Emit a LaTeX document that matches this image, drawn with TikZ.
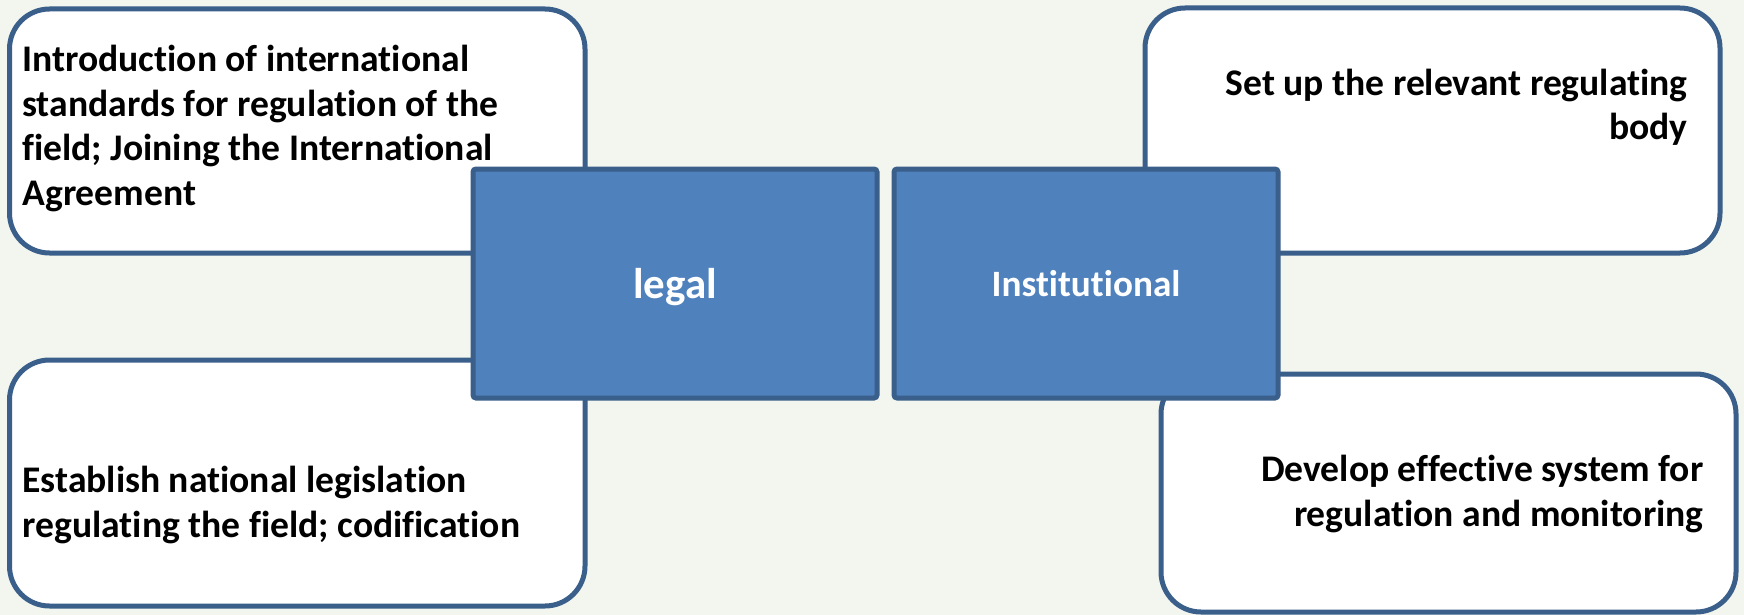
\documentclass[tikz,border=0pt]{standalone}
\usepackage{fontspec}
\setmainfont[Ligatures=NoCommon]{Carlito}
\definecolor{bgc}{HTML}{F3F6EE}
\definecolor{edgec}{HTML}{3A5F8B}
\definecolor{fillc}{HTML}{4F81BD}
\tikzset{
  whitebox/.style={draw=edgec, line width=2.5pt, fill=white, rounded corners=20pt, inner sep=0pt},
  bluebox/.style={draw=edgec, line width=2.5pt, fill=fillc, rounded corners=1.5pt, inner sep=0pt},
  bluetext/.style={inner sep=0pt, text=white, font=\bfseries\fontsize{18.6pt}{22pt}\selectfont},
  boxtext/.style={inner sep=0pt, font=\bfseries\fontsize{18.8pt}{22.2pt}\selectfont}
}
\begin{document}
\begin{tikzpicture}[x=0.5pt,y=-0.5pt]
\useasboundingbox[fill=bgc] (0,0) rectangle (1744,615);
% white boxes
\node[whitebox, minimum width=287.75pt, minimum height=122pt] (tl) at (297.25,131) {};
\node[whitebox, minimum width=287.75pt, minimum height=123pt] (bl) at (297.25,483) {};
\node[whitebox, minimum width=287.5pt, minimum height=122.5pt] (tr) at (1432.5,130.5) {};
\node[whitebox, minimum width=287.5pt, minimum height=119pt] (br) at (1448.5,493) {};
% texts (anchored at the baseline of the last line)
\node[boxtext, anchor=base west, align=left] (tltext) at (22,205) {Introduction of international\\standards for regulation of the\\field; Joining the International\\Agreement};
\node[boxtext, anchor=base west, align=left] (bltext) at (22,537) {Establish national legislation\\regulating the field; codification};
\node[boxtext, anchor=base east, align=right] (trtext) at (1688,140) {Set up the relevant regulating\\body};
\node[boxtext, anchor=base east, align=right] (brtext) at (1704,526) {Develop effective system for\\regulation and monitoring};
% blue boxes
\node[bluebox, minimum width=202pt, minimum height=114.5pt] (legal) at (675,283.5) {};
\node[bluebox, minimum width=192pt, minimum height=114.5pt] (inst) at (1086,283.5) {};
\node[bluetext, anchor=base, font=\bfseries\fontsize{21.5pt}{24pt}\selectfont] (legaltext) at (675,298) {legal};
\node[bluetext, anchor=base] (insttext) at (1086,296) {Institutional};
\end{tikzpicture}
\end{document}
